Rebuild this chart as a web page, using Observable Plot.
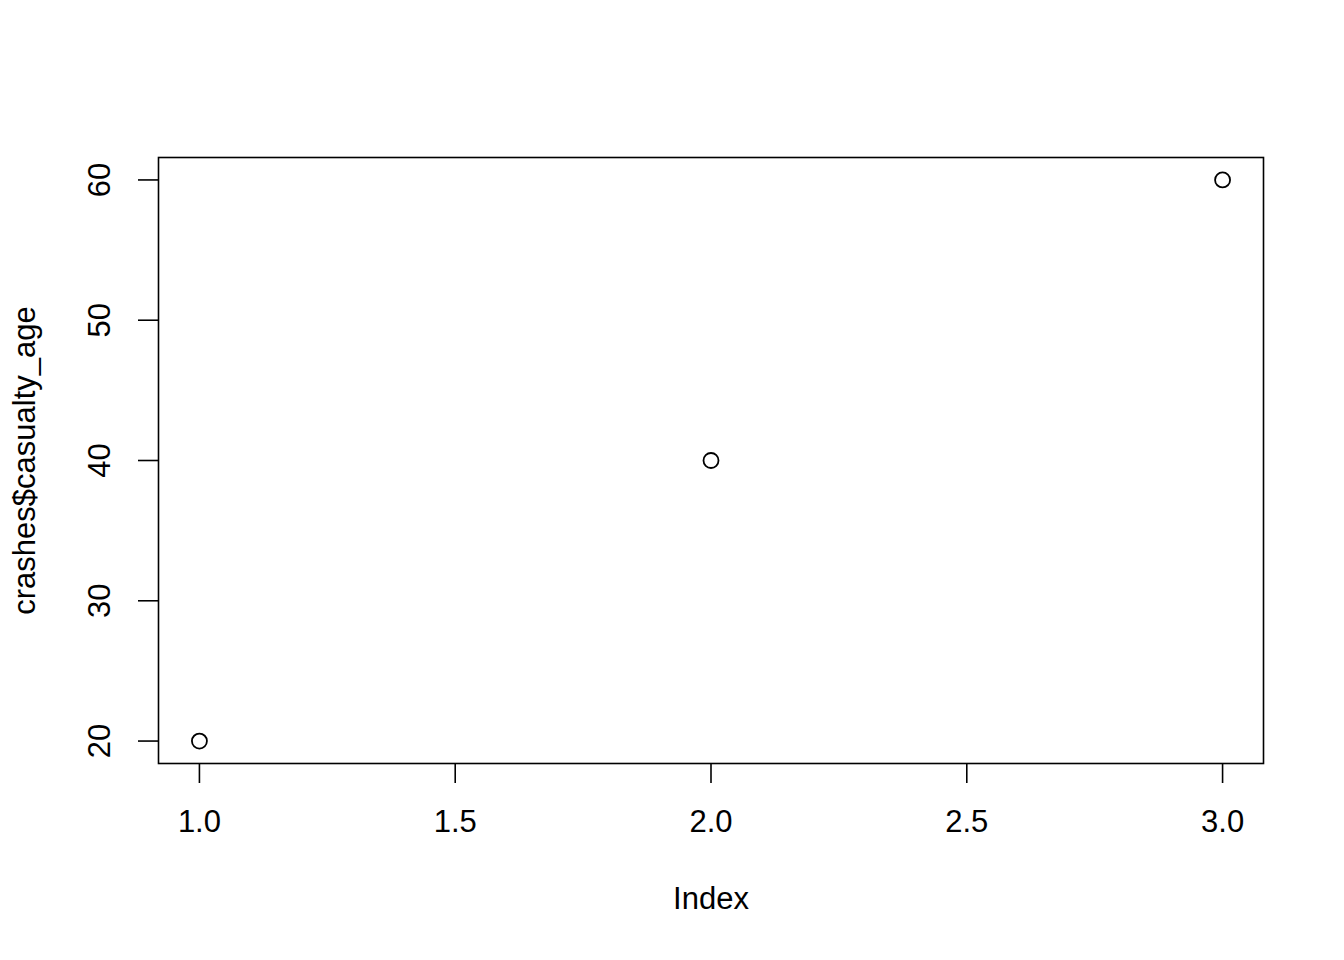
<!DOCTYPE html>
<html><head><meta charset="utf-8">
<script src="https://cdn.jsdelivr.net/npm/d3@7"></script>
<script src="https://cdn.jsdelivr.net/npm/@observablehq/plot@0.6"></script>
<style>body{margin:0;background:#fff}</style>
</head><body><div id="chart"></div>
<script>
const index = [1, 2, 3];
const casualtyAge = [20, 40, 60];
const xTicks = [1.0, 1.5, 2.0, 2.5, 3.0];
const yTicks = [20, 30, 40, 50, 60];
const xLabel = "Index";
const yLabel = "crashes$casualty_age";

const data = index.map((d, i) => ({x: d, y: casualtyAge[i]}));
const font = "Liberation Sans, Arial, sans-serif";

const chart = Plot.plot({
  width: 1344, height: 960,
  marginLeft: 158, marginRight: 81, marginTop: 157, marginBottom: 197,
  style: {fontFamily: font, background: "#fff", color: "#000"},
  x: {domain: [0.92, 3.08]},
  y: {domain: [18.4, 61.6]},
  marks: [
    Plot.frame({stroke: "#000", strokeWidth: 1.6}),
    Plot.axisX({ticks: xTicks, tickSize: 20, strokeWidth: 1.6, tickFormat: () => "", label: null}),
    Plot.axisY({ticks: yTicks, tickSize: 20, strokeWidth: 1.6, tickFormat: () => "", label: null}),
    Plot.text(xTicks, {x: d => d, frameAnchor: "bottom", dy: 59, lineAnchor: "middle", text: d => d.toFixed(1), fontSize: 31, fill: "#000"}),
    Plot.text(yTicks, {y: d => d, frameAnchor: "left", dx: -58, rotate: -90, textAnchor: "middle", lineAnchor: "middle", text: d => String(d), fontSize: 31, fill: "#000"}),
    Plot.text([xLabel], {frameAnchor: "bottom", dy: 136, lineAnchor: "middle", textAnchor: "middle", text: d => d, fontSize: 31, fill: "#000"}),
    Plot.text([yLabel], {frameAnchor: "left", dx: -133, rotate: -90, textAnchor: "middle", lineAnchor: "middle", text: d => d, fontSize: 31, fill: "#000"}),
    Plot.dot(data, {x: "x", y: "y", r: 7.5, stroke: "#000", strokeWidth: 1.8, fill: "none"})
  ]
});
document.getElementById("chart").appendChild(chart);
</script></body></html>
